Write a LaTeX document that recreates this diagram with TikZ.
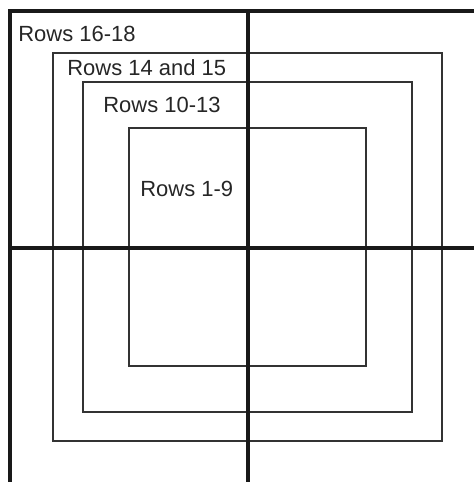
\documentclass[tikz,border=0pt]{standalone}
\usepackage{fontspec}
\setmainfont{Liberation Sans}

\begin{document}
\begin{tikzpicture}[x=0.02cm, y=-0.02cm, font=\fontsize{12.5}{15}\selectfont,
    zone/.style={draw=black!80, line width=1.1pt},
    axis/.style={draw=black!90, line width=1.8pt},
    rowlabel/.style={anchor=base west, inner sep=0pt, text=black!85}]
  \useasboundingbox (0,0) rectangle (474,482);

  % Row zones
  \draw[zone] (53,53)   rectangle (442,441);
  \draw[zone] (83,82)   rectangle (412,412);
  \draw[zone] (129,128) rectangle (366,366);

  % Cross lines
  \draw[axis] (248,11) -- (248,482);
  \draw[axis] (10,248) -- (474,248);

  % Outer frame
  \draw[axis] (10,482) -- (10,11) -- (474,11);

  % Labels
  \node[rowlabel] (rows16) at (18,42)  {Rows 16-18};
  \node[rowlabel] (rows14) at (67,76)  {Rows 14 and 15};
  \node[rowlabel] (rows10) at (103,113) {Rows 10-13};
  \node[rowlabel] (rows1)  at (140,197) {Rows 1-9};
\end{tikzpicture}
\end{document}
